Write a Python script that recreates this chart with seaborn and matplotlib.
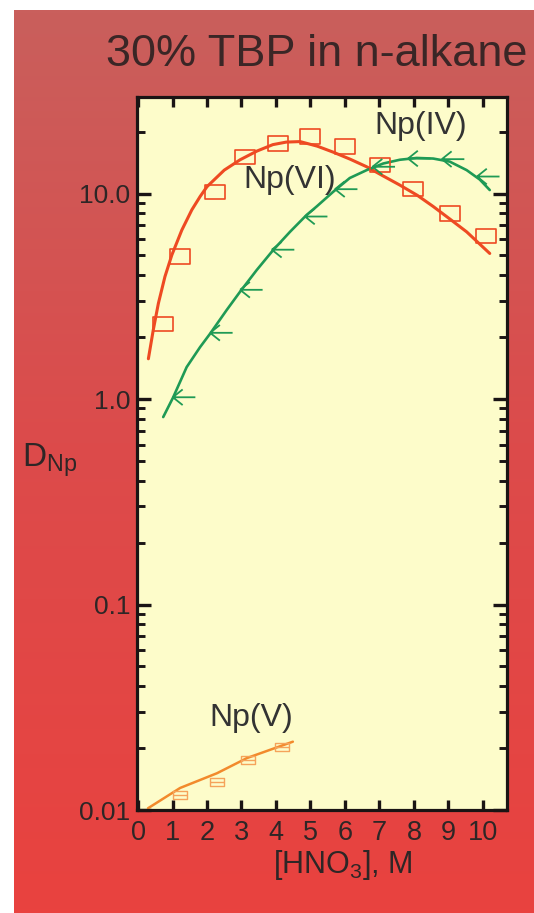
import matplotlib

matplotlib.use("Agg")
import matplotlib.pyplot as plt
import numpy as np
import seaborn as sns
from matplotlib.colors import LinearSegmentedColormap
from matplotlib.path import Path
from matplotlib.ticker import LogLocator, NullFormatter

# Np(VI): measured points and fitted curve
np6_x = [0.72, 1.22, 2.23, 3.10, 4.06, 4.99, 6.00, 7.01, 7.97, 9.04, 10.1]
np6_d = [2.32, 4.93, 10.2, 15.1, 17.5, 19.0, 16.9, 13.8, 10.5, 8.0, 6.2]
np6_fit_x = [0.30, 0.44, 0.59, 0.78, 0.98, 1.27, 1.56, 1.80, 2.0, 2.5, 2.96, 3.45,
             3.91, 4.3, 4.70, 5.2, 5.66, 6.15, 6.63, 7.1, 7.59, 8.1, 8.56, 9.05,
             9.53, 10.2]
np6_fit_d = [1.57, 2.16, 2.92, 3.94, 5.02, 6.64, 8.33, 9.67, 10.8, 13.0, 14.6, 16.1,
             17.3, 17.8, 17.9, 17.0, 15.9, 14.7, 13.5, 12.2, 11.0, 9.8, 8.65, 7.5,
             6.51, 5.11]

# Np(IV)
np4_x = [1.01, 2.09, 2.96, 3.88, 4.84, 5.71, 6.80, 7.83, 8.81, 9.83]
np4_d = [1.02, 2.10, 3.40, 5.33, 7.73, 10.5, 13.5, 14.8, 14.7, 12.1]
np4_fit_x = [0.73, 1.02, 1.41, 1.80, 2.09, 2.57, 2.96, 3.44, 3.92, 4.41, 4.89,
             5.18, 5.66, 6.14, 6.63, 7.11, 7.59, 8.08, 8.56, 9.04, 9.53, 9.91, 10.2]
np4_fit_d = [0.817, 1.02, 1.43, 1.79, 2.08, 2.71, 3.33, 4.24, 5.31, 6.52, 7.87,
             8.65, 10.2, 11.9, 13.0, 14.0, 14.6, 14.9, 14.8, 14.3, 13.0, 11.7, 10.4]

# Np(V)
np5_x = [1.22, 2.29, 3.19, 4.17]
np5_d = [0.0118, 0.0137, 0.0175, 0.0203]
np5_fit_x = [0.29, 1.22, 2.29, 3.16, 4.49]
np5_fit_d = [0.0102, 0.0128, 0.0151, 0.0179, 0.0215]

x_ticks = list(range(11))
y_ticks = [0.01, 0.1, 1.0, 10.0]
y_tick_labels = ["0.01", "0.1", "1.0", "10.0"]

RED = "#ee4a22"
GREEN = "#1f9a55"
ORANGE = "#f28a2c"
INK = "#2e2626"

W, H = 534, 913

# marker shapes
rect = Path([(-1, -0.72), (1, -0.72), (1, 0.72), (-1, 0.72), (-1, -0.72)],
            [Path.MOVETO, Path.LINETO, Path.LINETO, Path.LINETO, Path.CLOSEPOLY])
small_rect = Path([(-1, -0.55), (1, -0.55), (1, 0.55), (-1, 0.55), (-1, -0.55),
                   (-1, 0), (1, 0)],
                  [Path.MOVETO, Path.LINETO, Path.LINETO, Path.LINETO, Path.CLOSEPOLY,
                   Path.MOVETO, Path.LINETO])
fork = Path([(0, 0), (2.3, 0), (0, 0), (1.0, 0.8), (0, 0), (1.0, -0.8)],
            [Path.MOVETO, Path.LINETO, Path.MOVETO, Path.LINETO, Path.MOVETO, Path.LINETO])


def main():
    sns.set_theme(style="ticks")
    plt.rcParams["font.family"] = ["Liberation Sans", "DejaVu Sans"]
    plt.rcParams["mathtext.fontset"] = "custom"
    plt.rcParams["mathtext.rm"] = "Liberation Sans"
    plt.rcParams["mathtext.it"] = "Liberation Sans:italic"

    fig = plt.figure(figsize=(W / 100, H / 100), dpi=100, facecolor="white")

    # red slide background
    bg = fig.add_axes([14 / W, 0, 1.0, 903 / H], zorder=0)
    cmap = LinearSegmentedColormap.from_list(
        "slide", [(0, "#c95f5c"), (0.48, "#dc4b4b"), (1, "#e9423f")])
    bg.imshow(np.linspace(0, 1, 256).reshape(-1, 1), cmap=cmap, aspect="auto",
              extent=[0, 1, 0, 1])
    bg.axis("off")

    ax = fig.add_axes([137 / W, 103 / H, 370 / W, 713 / H], zorder=1)
    ax.set_facecolor("#fdfcca")

    sns.lineplot(x=np6_fit_x, y=np6_fit_d, sort=False, estimator=None,
                 color=RED, lw=2.2, ax=ax)
    sns.scatterplot(x=np6_x, y=np6_d, marker=rect, s=210, color=RED,
                    facecolor="none", edgecolor=RED, linewidth=1.2, ax=ax, zorder=3)

    sns.lineplot(x=np4_fit_x, y=np4_fit_d, sort=False, estimator=None,
                 color=GREEN, lw=1.9, ax=ax)
    sns.scatterplot(x=np4_x, y=np4_d, marker=fork, s=1050, color=GREEN,
                    facecolor="none", edgecolor=GREEN, linewidth=1.3, ax=ax, zorder=3)

    sns.lineplot(x=np5_fit_x, y=np5_fit_d, sort=False, estimator=None,
                 color=ORANGE, lw=1.8, ax=ax)
    sns.scatterplot(x=np5_x, y=np5_d, marker=small_rect, s=100, color="#f5a35a",
                    facecolor="none", edgecolor="#f5a35a", linewidth=1.0, ax=ax, zorder=3)

    ax.set_yscale("log")
    ax.set_xlim(-0.03, 10.7)
    ax.set_ylim(0.01, 29.5)
    ax.set_xticks(x_ticks)
    ax.set_xticklabels([str(t) for t in x_ticks])
    ax.set_yticks(y_ticks)
    ax.set_yticklabels(y_tick_labels)
    ax.yaxis.set_minor_locator(LogLocator(base=10, subs=np.arange(2, 10)))
    ax.yaxis.set_minor_formatter(NullFormatter())
    ax.set_xlabel("")
    ax.set_ylabel("")

    for side in ax.spines.values():
        side.set_linewidth(2.3)
        side.set_color("#1a1414")
        side.set_visible(True)
    ax.tick_params(which="both", direction="in", top=True, right=True,
                   color="#1a1414", labelcolor=INK)
    ax.tick_params(axis="y", which="major", length=10, width=2.4,
                   labelsize=19, pad=5)
    ax.tick_params(axis="y", which="minor", length=6, width=2.1)
    ax.tick_params(axis="x", which="major", length=7, width=2.4,
                   labelsize=19.5, pad=7)

    ax.text(8.2, 21.2, "Np(IV)", fontsize=23, color="#333333", ha="center", va="center")
    ax.text(4.4, 11.7, "Np(VI)", fontsize=23, color="#333333", ha="center", va="center")
    ax.text(3.28, 0.0281, "Np(V)", fontsize=23, color="#333333", ha="center", va="center")

    fig.text(106 / W, 1 - 55 / H, "30% TBP in n-alkane", fontsize=32.5, color="#3a2626",
             ha="left", va="center")
    fig.text(22 / W, 1 - 460 / H, r"D$_{\mathrm{Np}}$", fontsize=24, color=INK,
             ha="left", va="center")
    fig.text(343 / W, 1 - 865 / H, r"[HNO$_{3}$], M", fontsize=22, color=INK,
             ha="center", va="center")

    fig.savefig("out.png", dpi=100, facecolor="white")


if __name__ == "__main__":
    main()
